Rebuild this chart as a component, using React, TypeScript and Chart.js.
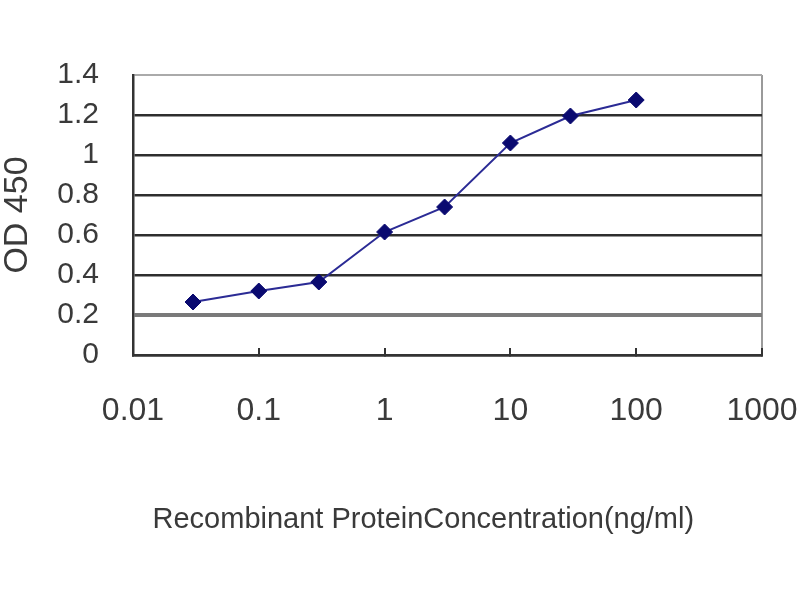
import { useEffect, useRef } from 'react';
import { Chart, registerables } from 'chart.js';

Chart.register(...registerables);

const concentrations = [0.03, 0.1, 0.3, 1, 3, 10, 30, 100];
const od450 = [0.265, 0.32, 0.365, 0.615, 0.74, 1.06, 1.195, 1.275];
const xTickValues = [0.01, 0.1, 1, 10, 100, 1000];
const xTickLabels = ['0.01', '0.1', '1', '10', '100', '1000'];
const yTickValues = [0, 0.2, 0.4, 0.6, 0.8, 1, 1.2, 1.4];
const yTickLabels = ['0', '0.2', '0.4', '0.6', '0.8', '1', '1.2', '1.4'];
const xTitle = 'Recombinant ProteinConcentration(ng/ml)';
const yTitle = 'OD 450';

const FONT = "'Liberation Sans', Arial, sans-serif";
const TEXT = '#3a3a3a';

export default function App() {
  const ref = useRef<HTMLCanvasElement | null>(null);

  useEffect(() => {
    if (!ref.current) return;
    const chart = new Chart(ref.current, {
      type: 'scatter',
      data: {
        datasets: [
          {
            data: concentrations.map((x, i) => ({ x, y: od450[i] })),
            showLine: true,
            borderColor: '#2b2b95',
            borderWidth: 2,
            pointStyle: 'rectRot',
            pointRadius: 8,
            pointBackgroundColor: '#0a0a70',
            pointBorderColor: '#0a0a70',
            pointBorderWidth: 1,
          },
        ],
      },
      options: {
        responsive: false,
        animation: false,
        layout: { padding: { top: 75, right: 38, left: 0, bottom: 0 } },
        plugins: { legend: { display: false }, tooltip: { enabled: false } },
        scales: {
          x: {
            type: 'logarithmic',
            min: 0.01,
            max: 1000,
            afterBuildTicks: (scale: any) => {
              scale.ticks = xTickValues.map((v) => ({ value: v }));
            },
            afterFit: (scale: any) => {
              scale.height = 245;
              scale.paddingLeft = 0;
              scale.paddingRight = 0;
            },
            ticks: {
              autoSkip: false,
              maxRotation: 0,
              padding: 44,
              color: TEXT,
              font: { family: FONT, size: 32 },
              callback: (_v: any, i: number) => xTickLabels[i],
            },
            grid: {
              drawOnChartArea: true,
              color: (ctx: any) =>
                ctx.index === xTickValues.length - 1 ? '#9a9a9a' : 'rgba(0,0,0,0)',
              lineWidth: 2,
              tickColor: '#333',
              tickLength: -7,
              tickWidth: 2,
            },
            border: { display: true, color: '#333', width: 2.5 },
            title: {
              display: true,
              text: xTitle + '      ',
              color: TEXT,
              font: { family: FONT, size: 29 },
              padding: { top: 0, bottom: 63 },
            },
          },
          y: {
            type: 'linear',
            min: 0,
            max: 1.4,
            afterBuildTicks: (scale: any) => {
              scale.ticks = yTickValues.map((v) => ({ value: v }));
            },
            afterFit: (scale: any) => {
              scale.width = 133;
              scale.paddingTop = 0;
              scale.paddingBottom = 0;
            },
            ticks: {
              padding: 34,
              color: TEXT,
              font: { family: FONT, size: 30 },
              callback: (_v: any, i: number) => yTickLabels[i],
            },
            grid: {
              drawTicks: false,
              color: (ctx: any) => {
                if (ctx.index === yTickValues.length - 1) return '#aaaaaa';
                if (ctx.index === 1) return '#7a7a7a';
                return '#2e2e2e';
              },
              lineWidth: (ctx: any) => {
                if (ctx.index === 1) return 4;
                if (ctx.index === yTickValues.length - 1) return 2;
                return 2.5;
              },
            },
            border: { display: true, color: '#333', width: 2.5 },
            title: {
              display: true,
              text: yTitle,
              color: TEXT,
              font: { family: FONT, size: 34 },
              padding: { top: -3, bottom: 0 },
            },
          },
        },
      },
    } as any);
    return () => chart.destroy();
  }, []);

  return (
    <div style={{ position: 'absolute', left: 0, top: 0, width: 800, height: 600, background: '#fff' }}>
      <canvas ref={ref} width={800} height={600} style={{ width: 800, height: 600 }} />
    </div>
  );
}
